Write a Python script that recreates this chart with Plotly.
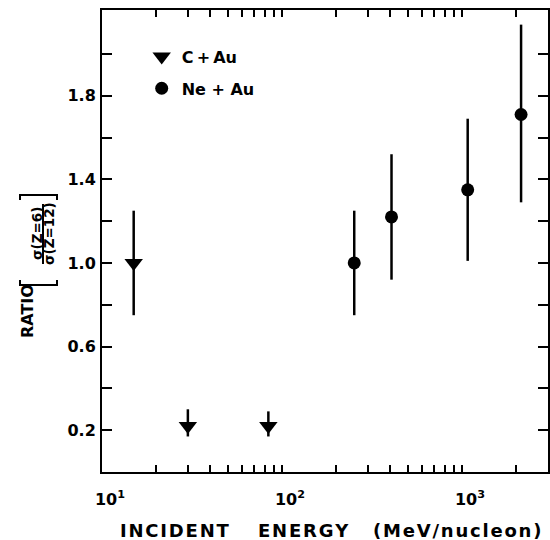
import plotly.graph_objects as go

# C + Au data
c_energy = [15, 30, 84]
c_ratio = [1.0, 0.22, 0.22]
c_err_plus = [0.25, 0.08, 0.07]
c_err_minus = [0.25, 0.05, 0.05]

# Ne + Au data
ne_energy = [252, 406, 1076, 2130]
ne_ratio = [1.0, 1.22, 1.35, 1.71]
ne_err_plus = [0.25, 0.30, 0.34, 0.43]
ne_err_minus = [0.25, 0.30, 0.34, 0.42]

y_tickvals = [0.2, 0.4, 0.6, 0.8, 1.0, 1.2, 1.4, 1.6, 1.8, 2.0]
y_ticktext = ["0.2", "", "0.6", "", "1.0", "", "1.4", "", "1.8", ""]
x_tickvals = [10, 100, 1000]
x_ticktext = ["10<sup>1</sup>", "10<sup>2</sup>", "10<sup>3</sup>"]
x_minor = [20, 30, 40, 50, 60, 70, 80, 90, 200, 300, 400, 500, 600, 700, 800, 900, 2000]

FONT = "DejaVu Sans"
HS = "\u200a"  # hair space for letter spacing


def spaced(s):
    return HS.join(list(s))


W, H = 550, 540
L, T, R, B = 102, 10, 2, 68

fig = go.Figure()
fig.add_trace(go.Scatter(
    x=c_energy, y=c_ratio, mode="markers", name="C\u2009+\u2009Au",
    marker=dict(symbol="triangle-down", size=16, color="black"),
    error_y=dict(type="data", symmetric=False, array=c_err_plus, arrayminus=c_err_minus,
                 thickness=2.5, width=0, color="black"),
    legendgroup="c",
))
fig.add_trace(go.Scatter(
    x=ne_energy, y=ne_ratio, mode="markers", name="Ne + Au",
    marker=dict(symbol="circle", size=13, color="black"),
    error_y=dict(type="data", symmetric=False, array=ne_err_plus, arrayminus=ne_err_minus,
                 thickness=2.5, width=0, color="black"),
    legendgroup="ne",
))

axis_common = dict(
    showline=True, linecolor="black", linewidth=2, mirror="allticks",
    ticks="inside", tickcolor="black", tickwidth=2, showgrid=False, zeroline=False,
    tickfont=dict(family=FONT, size=16, color="black", weight="bold"),
)

fig.update_layout(
    width=W, height=H,
    margin=dict(l=L, r=R, t=T, b=B, autoexpand=False),
    paper_bgcolor="white", plot_bgcolor="white",
    showlegend=True,
    legend=dict(x=0.089, y=0.936, xanchor="left", yanchor="top", bgcolor="rgba(0,0,0,0)",
                font=dict(family=FONT, size=16, color="black", weight="bold"),
                tracegroupgap=8, itemsizing="trace"),
    xaxis=dict(type="log", range=[1.0, 3.478], tickvals=x_tickvals, ticktext=x_ticktext,
               ticklen=7, ticklabelshift=8, ticklabelstandoff=12,
               minor=dict(ticks="inside", tickvals=x_minor, ticklen=7, tickwidth=2, tickcolor="black"),
               **axis_common),
    yaxis=dict(range=[0, 2.21], tickvals=y_tickvals, ticktext=y_ticktext, ticklen=10,
               ticklabelstandoff=1, **axis_common),
)

tf = dict(family=FONT, color="black", weight="bold")
PW, PH = W - L - R, H - T - B


def ax_x(px):  # page px -> paper fraction
    return (px - L) / PW


def ax_y(py):
    return (H - B - py) / PH


# x-axis title as three words
for word, cx in [("INCIDENT", 174.5), ("ENERGY", 303), ("(MeV/nucleon)", 457)]:
    fig.add_annotation(xref="paper", yref="paper", x=ax_x(cx), y=ax_y(530),
                       xanchor="center", yanchor="middle", showarrow=False,
                       text=spaced(word), font=dict(size=18, **tf))

# y title pieces
fig.add_annotation(xref="paper", yref="paper", x=ax_x(27), y=ax_y(311),
                   xanchor="center", yanchor="middle", textangle=-90, showarrow=False,
                   text="RATIO", font=dict(size=16, **tf))
fig.add_annotation(xref="paper", yref="paper", x=ax_x(37), y=ax_y(234),
                   xanchor="center", yanchor="middle", textangle=-90, showarrow=False,
                   text="σ(Z=6)", font=dict(size=13.5, **tf))
fig.add_annotation(xref="paper", yref="paper", x=ax_x(49), y=ax_y(234),
                   xanchor="center", yanchor="middle", textangle=-90, showarrow=False,
                   text="σ(Z=12)", font=dict(size=13.5, **tf))

line = dict(color="black", width=2)
# fraction bar
fig.add_shape(type="line", xref="paper", yref="paper", x0=ax_x(43), x1=ax_x(43),
              y0=ax_y(204), y1=ax_y(264), line=line)
# brackets
fig.add_shape(type="path", xref="paper", yref="paper", line=line,
              path=f"M {ax_x(20)} {ax_y(280)} L {ax_x(20)} {ax_y(285)} L {ax_x(57)} {ax_y(285)} L {ax_x(57)} {ax_y(280)}")
fig.add_shape(type="path", xref="paper", yref="paper", line=line,
              path=f"M {ax_x(20)} {ax_y(200)} L {ax_x(20)} {ax_y(195)} L {ax_x(57)} {ax_y(195)} L {ax_x(57)} {ax_y(200)}")

fig.write_html("out.html", config={"displayModeBar": False},
               post_script="document.body.style.margin='0';document.body.style.overflow='hidden';")
